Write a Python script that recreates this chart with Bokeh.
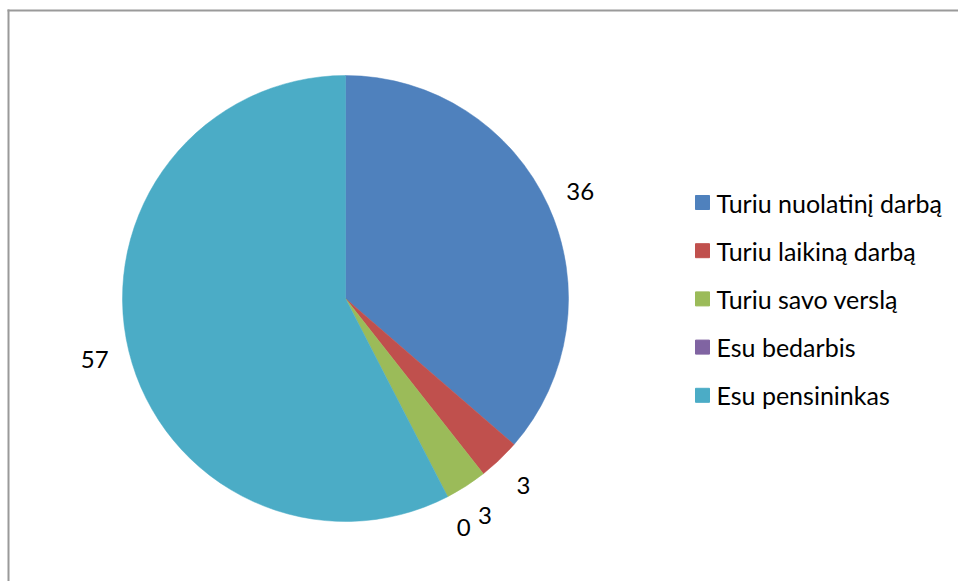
import math
from bokeh.plotting import figure
from bokeh.models import Range1d, ColumnDataSource
from bokeh.core.properties import value
from bokeh.embed import file_html
from bokeh.resources import INLINE

categories = ["Turiu nuolatinį darbą", "Turiu laikiną darbą", "Turiu savo verslą", "Esu bedarbis", "Esu pensininkas"]
values = [36, 3, 3, 0, 57]
colors = ["#4F81BD", "#C0504D", "#9BBB59", "#8064A2", "#4BACC6"]

W, H = 958, 581
p = figure(width=W, height=H, output_backend="svg", toolbar_location=None,
           x_range=Range1d(0, W), y_range=Range1d(0, H), min_border=0,
           outline_line_color=None)
p.outline_line_alpha = 0
p.outline_line_width = 0
p.axis.visible = False
p.grid.visible = False
p.background_fill_color = "white"
p.border_fill_color = "white"


def Y(yd):
    # convert a downward pixel offset into the upward data coordinate
    return H - yd


# chart border (only left and top visible in the reference)
p.segment(x0=[8, 7], y0=[Y(9), Y(10)], x1=[8, W + 5], y1=[-5, Y(10)],
          line_color="#9A9A9A", line_width=2)

cx, cy, r = 345, Y(298), 223
lr = 258
total = sum(values)
starts, ends, lx, ly, alphas = [], [], [], [], []
acc = 0.0
for v in values:
    a0 = acc / total * 2 * math.pi
    a1 = (acc + v) / total * 2 * math.pi
    starts.append(math.pi / 2 - a0)
    ends.append(math.pi / 2 - a1)
    mid = (a0 + a1) / 2
    lx.append(cx + lr * math.sin(mid))
    ly.append(cy + lr * math.cos(mid))
    alphas.append(1.0 if v > 0 else 0.0)
    acc += v

src = ColumnDataSource(dict(start=starts, end=ends, color=colors, alpha=alphas,
                            lx=lx, ly=ly, lab=[str(v) for v in values]))
p.wedge(x=cx, y=cy, radius=r, start_angle="start", end_angle="end",
        direction="clock", fill_color="color", line_color="color", line_width=0.5,
        fill_alpha="alpha", line_alpha="alpha", source=src)

p.text(x="lx", y="ly", text="lab", source=src, text_font=value("Lato"),
       text_font_size="24px", text_align="center", text_baseline="middle", text_color="#000000")

# legend
leg_y = [Y(202 + i * 48.2) for i in range(len(categories))]
leg = ColumnDataSource(dict(x=[702] * 5, y=leg_y, c=colors, t=categories, tx=[716] * 5))
p.rect(x="x", y="y", width=14, height=14, fill_color="c", line_color="c", source=leg)
p.text(x="tx", y="y", text="t", source=leg, text_font=value("Lato"),
       text_font_size="25px", text_align="left", text_baseline="middle", text_color="#000000")

open("out.html", "w").write(file_html(p, INLINE))
